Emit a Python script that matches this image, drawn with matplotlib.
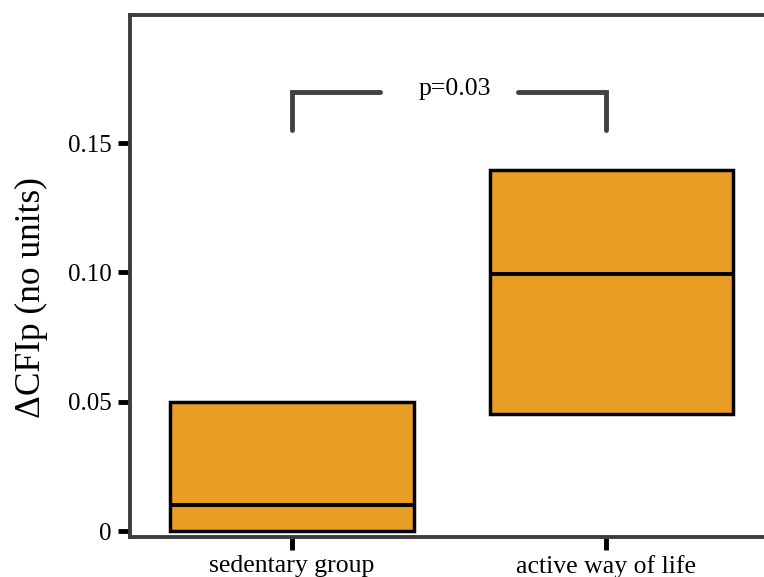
import matplotlib
matplotlib.use("Agg")
import matplotlib.pyplot as plt

categories = ["sedentary group", "active way of life"]
q1 = [0.0, 0.0453]
median = [0.010, 0.0995]
q3 = [0.050, 0.1395]
yticks = [0, 0.05, 0.10, 0.15]
yticklabels = ["0", "0.05", "0.10", "0.15"]
p_text = "p=0.03"

plt.rcParams['font.family'] = ['Liberation Serif', 'DejaVu Serif']

fig = plt.figure(figsize=(7.64, 5.77), dpi=100)
ax = fig.add_axes([130/764, 40/577, 1 - 130/764, (537-15)/577])

fill = "#E89D25"
width = 0.775
box_shift = [0.0, 0.017]
for i in range(len(categories)):
    x = i + box_shift[i]
    ax.bar(x, q3[i] - q1[i], bottom=q1[i], width=width, color=fill,
           edgecolor="black", linewidth=2.5, zorder=2)
    ax.plot([x - width/2, x + width/2], [median[i], median[i]],
            color="black", linewidth=2.8, zorder=3, solid_capstyle='butt')

ax.set_xlim(-0.516, 1.503)
ax.set_ylim(-0.0023, 0.1995)
ax.set_xticks(range(len(categories)))
ax.set_xticklabels(categories, fontsize=18.5)
ax.set_yticks(yticks)
ax.set_yticklabels(yticklabels, fontsize=18)
ax.set_ylabel("ΔCFIp (no units)", fontsize=25.5)
ax.yaxis.set_label_coords(-0.13, 0.459)

spine_c = "#3c3c3c"
for s in ["left", "bottom", "top"]:
    ax.spines[s].set_color(spine_c)
    ax.spines[s].set_linewidth(2.8)
ax.spines["right"].set_visible(False)
ax.tick_params(axis="both", direction="out", length=9, width=3.5, color="black", pad=4)

# significance bracket
bc = "#404040"
ytop = 0.1697
ybot = 0.155
ax.plot([0, 0, 0.28], [ybot, ytop, ytop], color=bc, linewidth=3.5,
        solid_capstyle='round', solid_joinstyle='miter')
ax.plot([0.72, 1, 1], [ytop, ytop, ybot], color=bc, linewidth=3.5,
        solid_capstyle='round', solid_joinstyle='miter')
ax.text(0.52, ytop + 0.0012, p_text, ha="center", va="center", fontsize=18.5)

fig.savefig("out.png", dpi=100)
